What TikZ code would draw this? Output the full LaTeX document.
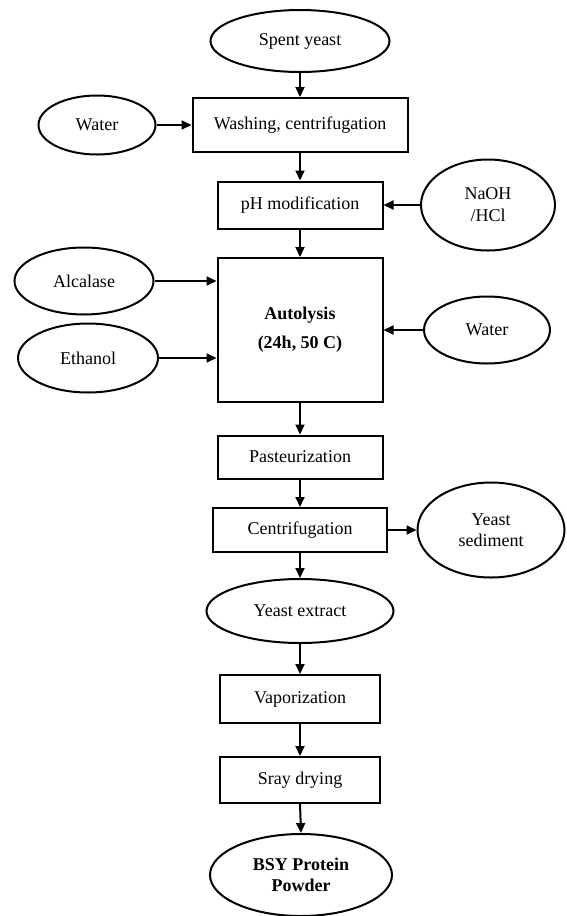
\documentclass[tikz,border=0pt]{standalone}
\usepackage{fontspec}
\setmainfont{Liberation Serif}
\usetikzlibrary{shapes.geometric,arrows.meta}
\begin{document}
\begin{tikzpicture}[x=1pt,y=-1pt,
  base/.style={draw, line width=2pt, inner sep=0pt, align=center,
    font=\fontsize{18}{21}\selectfont},
  pbox/.style 2 args={base, rectangle, minimum width=#1, minimum height=#2},
  oval/.style 2 args={base, ellipse, minimum width=#1, minimum height=#2},
  flow/.style={line width=2pt, -{Triangle[length=10pt,width=9pt]}}]
\useasboundingbox (0,0) rectangle (566,916);
\node[oval={179}{62}] (spent) at (300,41) {Spent yeast};
\node[pbox={215}{54}] (wash) at (300,125) {Washing, centrifugation};
\node[oval={117}{59}] (water1) at (97,125) {Water};
\node[pbox={165}{47}] (ph) at (300,205) {pH modification};
\node[oval={134}{91}, font=\fontsize{18}{22}\selectfont] (naoh) at (488,205) {NaOH\\/HCl};
\node[pbox={165}{144}, font=\fontsize{18}{29}\selectfont\bfseries] (auto) at (300,330) {Autolysis\\(24h, 50 C)};
\node[oval={139}{67}] (alc) at (84,281) {Alcalase};
\node[oval={140}{69}] (eth) at (88,358) {Ethanol};
\node[oval={126}{67}] (water2) at (487,330) {Water};
\node[pbox={165}{43}] (past) at (300,457) {Pasteurization};
\node[pbox={174}{44}] (cent) at (300,530) {Centrifugation};
\node[oval={147}{95}] (sed) at (491,530) {Yeast\\sediment};
\node[oval={187}{64}] (ext) at (300,611) {Yeast extract};
\node[pbox={160}{48}] (vap) at (300,699) {Vaporization};
\node[pbox={160}{46}] (spray) at (300,780) {Sray drying};
\node[oval={182}{82}, font=\fontsize{18}{21}\selectfont\bfseries] (bsy) at (301,875) {BSY Protein\\Powder};
\draw[flow] (spent) -- (wash);
\draw[flow] (water1) -- (wash);
\draw[flow] (wash) -- (ph);
\draw[flow] (naoh) -- (ph);
\draw[flow] (ph) -- (auto);
\draw[flow] (alc.east) -- (alc.east -| auto.west);
\draw[flow] (eth.east) -- (eth.east -| auto.west);
\draw[flow] (water2.west) -- (water2.west -| auto.east);
\draw[flow] (auto) -- (past);
\draw[flow] (past) -- (cent);
\draw[flow] (cent) -- (sed);
\draw[flow] (cent) -- (ext);
\draw[flow] (ext) -- (vap);
\draw[flow] (vap) -- (spray);
\draw[flow] (spray.south) -- (bsy.north);
\end{tikzpicture}
\end{document}
